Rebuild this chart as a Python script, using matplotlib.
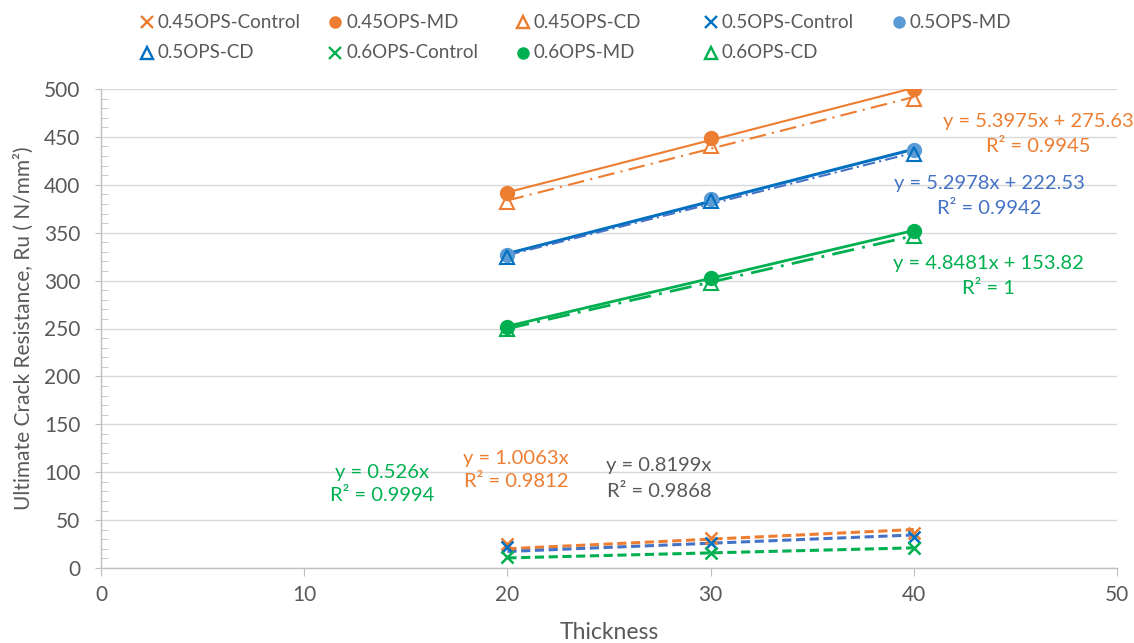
import numpy as np
import matplotlib
matplotlib.use("Agg")
import matplotlib.pyplot as plt
from matplotlib.lines import Line2D
from matplotlib.ticker import MultipleLocator

plt.rcParams['font.family'] = ['Lato', 'DejaVu Sans']

thickness = [20, 30, 40]
c045 = [25, 31, 37]
md045 = [391, 449, 500]
cd045 = [382, 441, 490]
c05 = [22, 26, 32]
md05 = [327, 385, 436]
cd05 = [325, 383, 432]
c06 = [11, 15.5, 21]
md06 = [252, 303, 352]
cd06 = [250, 298, 347]

labels = ["0.45OPS-Control", "0.45OPS-MD", "0.45OPS-CD",
          "0.5OPS-Control", "0.5OPS-MD", "0.5OPS-CD",
          "0.6OPS-Control", "0.6OPS-MD", "0.6OPS-CD"]

eq_texts = [
    ("y = 5.3975x + 275.63", "R² = 0.9945", 46.11, 465.6, 439.5, '#ED7D31'),
    ("y = 5.2978x + 222.53", "R² = 0.9942", 43.70, 401.8, 375.7, '#4472C4'),
    ("y = 4.8481x + 153.82", "R² = 1", 43.65, 318.3, 292.2, '#00B050'),
    ("y = 0.526x", "R² = 0.9994", 13.83, 100.2, 76.2, '#00B050'),
    ("y = 1.0063x", "R² = 0.9812", 20.42, 114.8, 89.8, '#ED7D31'),
    ("y = 0.8199x", "R² = 0.9868", 27.46, 106.5, 79.4, '#595959'),
]

ORANGE = '#ED7D31'
BLUE_D = '#0070C0'
BLUE_L = '#5B9BD5'
BLUE_T = '#4472C4'
GREEN = '#00B050'
GREY = '#595959'

W, H = 1134, 643
fig = plt.figure(figsize=(W / 100, H / 100), dpi=100)
ax = fig.add_axes([101 / W, 1 - 568 / H, 1016 / W, 479 / H])

x = np.array(thickness, dtype=float)
xl = np.array([20.0, 40.0])

def fit_lin(y):
    p = np.polyfit(x, np.array(y, dtype=float), 1)
    return np.polyval(p, xl)

def fit_origin(y):
    y = np.array(y, dtype=float)
    k = np.sum(x * y) / np.sum(x * x)
    return k * xl

# trendlines
ax.plot(xl, fit_lin(md045), color=ORANGE, lw=1.5, ls='-', zorder=3)
ax.plot(xl, fit_lin(cd045), color=ORANGE, lw=1.5, ls=(0, (8, 3, 1, 3)), zorder=3)
ax.plot(xl, fit_lin(md05), color=BLUE_D, lw=2.2, ls='-', zorder=3)
ax.plot(xl, fit_lin(cd05), color=BLUE_T, lw=1.5, ls=(0, (6, 2, 1, 2)), zorder=3)
ax.plot(xl, fit_lin(md06), color=GREEN, lw=2.0, ls='-', zorder=3)
ax.plot(xl, fit_lin(cd06), color=GREEN, lw=2.0, ls=(0, (8, 3, 1, 3)), zorder=3)
ax.plot(xl, fit_origin(c045), color=ORANGE, lw=2.2, ls=(0, (3, 1.5)), zorder=3)
ax.plot(xl, fit_origin(c05), color=BLUE_T, lw=2.2, ls=(0, (3, 1.5)), zorder=3)
ax.plot(xl, fit_origin(c06), color=GREEN, lw=2.2, ls=(0, (3, 1.5)), zorder=3)

# markers
styles = [
    (c045, dict(marker='x', color=ORANGE, ms=9, mew=1.8, ls='none')),
    (md045, dict(marker='o', color=ORANGE, ms=10, ls='none')),
    (cd045, dict(marker='^', markeredgecolor=ORANGE, markerfacecolor='none', ms=10, mew=1.5, ls='none')),
    (c05, dict(marker='x', color=BLUE_D, ms=9, mew=1.8, ls='none')),
    (md05, dict(marker='o', color=BLUE_L, ms=10, ls='none')),
    (cd05, dict(marker='^', markeredgecolor=BLUE_D, markerfacecolor='none', ms=10, mew=1.5, ls='none')),
    (c06, dict(marker='x', color=GREEN, ms=9, mew=1.8, ls='none')),
    (md06, dict(marker='o', color=GREEN, ms=10, ls='none')),
    (cd06, dict(marker='^', markeredgecolor=GREEN, markerfacecolor='none', ms=10, mew=1.5, ls='none')),
]
handles = []
for (vals, st), lab in zip(styles, labels):
    h, = ax.plot(thickness, vals, zorder=4, label=lab, **st)
    handles.append(h)

for t1, t2, xx, y1, y2, col in eq_texts:
    ax.text(xx, y1, t1, color=col, fontsize=14.5, ha='center', va='center', zorder=5)
    ax.text(xx, y2, t2, color=col, fontsize=14.5, ha='center', va='center', zorder=5)

ax.set_xlim(0, 50)
ax.set_ylim(0, 500)
ax.set_xticks(np.arange(0, 51, 10))
ax.set_yticks(np.arange(0, 501, 50))
ax.yaxis.set_minor_locator(MultipleLocator(10))
ax.yaxis.grid(True, which='major', color='#D9D9D9', lw=1.0)
ax.set_axisbelow(True)
for s in ['top', 'right']:
    ax.spines[s].set_visible(False)
for s in ['left', 'bottom']:
    ax.spines[s].set_color('#BFBFBF')
    ax.spines[s].set_linewidth(1.0)
ax.tick_params(axis='y', which='major', direction='out', length=4.5, color='#BFBFBF',
               labelsize=15, labelcolor=GREY, pad=10.5)
ax.tick_params(axis='y', which='minor', direction='in', length=5, color='#BFBFBF')
ax.tick_params(axis='x', length=6, color='#BFBFBF', labelsize=15, labelcolor=GREY, pad=6)
ax.set_xlabel("Thickness", fontsize=16.5, color=GREY)
ax.xaxis.set_label_coords(0.5, -0.112)
ax.set_ylabel("Ultimate Crack Resistance, Ru ( N/mm²)", fontsize=15, color=GREY)
ax.yaxis.set_label_coords(-0.066, 0.5)

# legend drawn as marker + label, laid out in Excel's even grid
leg_order = [[0, 1, 2, 3, 4], [5, 6, 7, 8]]
col_x0, col_step = 147, 188
row_y = [22, 53]
for r, row in enumerate(leg_order):
    for c, i in enumerate(row):
        h = handles[i]
        mx = (col_x0 + c * col_step) / W
        my = 1 - row_y[r] / H
        m = h.get_marker()
        fig.add_artist(Line2D([mx], [my], transform=fig.transFigure, marker=m, ls='none',
                              markeredgecolor=h.get_markeredgecolor(),
                              markerfacecolor=h.get_markerfacecolor(),
                              ms=8.5 if m == 'x' else 8, mew=1.7 if m != 'o' else 1.0))
        fig.text(mx + 11 / W, my, labels[i], fontsize=13.5, color=GREY,
                 ha='left', va='center')

fig.savefig("out.png", dpi=100)
